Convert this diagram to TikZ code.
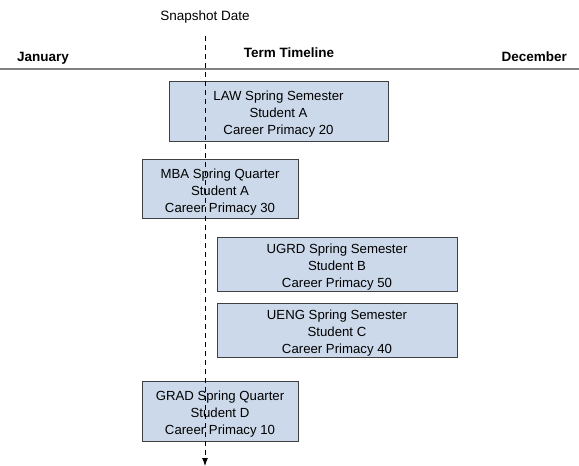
\documentclass[tikz,border=0pt]{standalone}
\usepackage{fontspec}
\setmainfont{Liberation Sans}
\usetikzlibrary{arrows.meta}
\definecolor{boxfill}{HTML}{CCD9EA}
\definecolor{boxline}{HTML}{404040}
\newcommand\mytstrut{\rule{0pt}{16pt}}
\begin{document}
\begin{tikzpicture}[x=1pt,y=-1pt,
  term/.style={draw=boxline,line width=1pt,fill=boxfill,rectangle,align=center,
    font=\fontsize{13.2}{17}\selectfont,inner sep=0pt},
  lab/.style={font=\fontsize{13.5}{15}\selectfont\bfseries,inner sep=0pt},
  snapline/.style={line width=1pt,dash pattern=on 5pt off 4pt,-{Latex[length=8pt,width=6pt]}}]
\useasboundingbox (0,0) rectangle (579,466);
\coordinate (tlL) at (0,69);
\coordinate (tlR) at (579,69);
\draw[gray,line width=1.6pt] (tlL) -- (tlR);
\node[lab,anchor=base west] (jan) at (17,61) {January};
\node[lab,anchor=base] (term) at (289,57) {Term Timeline};
\node[lab,anchor=base east] (dec) at (567,61) {December};
\node[font=\fontsize{13.5}{15}\selectfont,inner sep=0pt] (snap) at (205,17) {Snapshot Date};
\node[term,minimum width=219pt,minimum height=60pt] (law) at (278.5,111) {\mytstrut LAW Spring Semester\\Student A\\Career Primacy 20};
\node[term,minimum width=156pt,minimum height=59pt] (mba) at (220,188.5) {\mytstrut MBA Spring Quarter\\Student A\\Career Primacy 30};
\node[term,minimum width=240pt,minimum height=54pt] (ugrd) at (337,264) {\mytstrut UGRD Spring Semester\\Student B\\Career Primacy 50};
\node[term,minimum width=240pt,minimum height=54pt] (ueng) at (337,330) {\mytstrut UENG Spring Semester\\Student C\\Career Primacy 40};
\node[term,minimum width=156pt,minimum height=60pt] (grad) at (220,411) {\mytstrut GRAD Spring Quarter\\Student D\\Career Primacy 10};
\coordinate (snapTop) at (205,36);
\coordinate (snapBot) at (205,466);
\draw[snapline] (snapTop) -- (snapBot);
\end{tikzpicture}
\end{document}
